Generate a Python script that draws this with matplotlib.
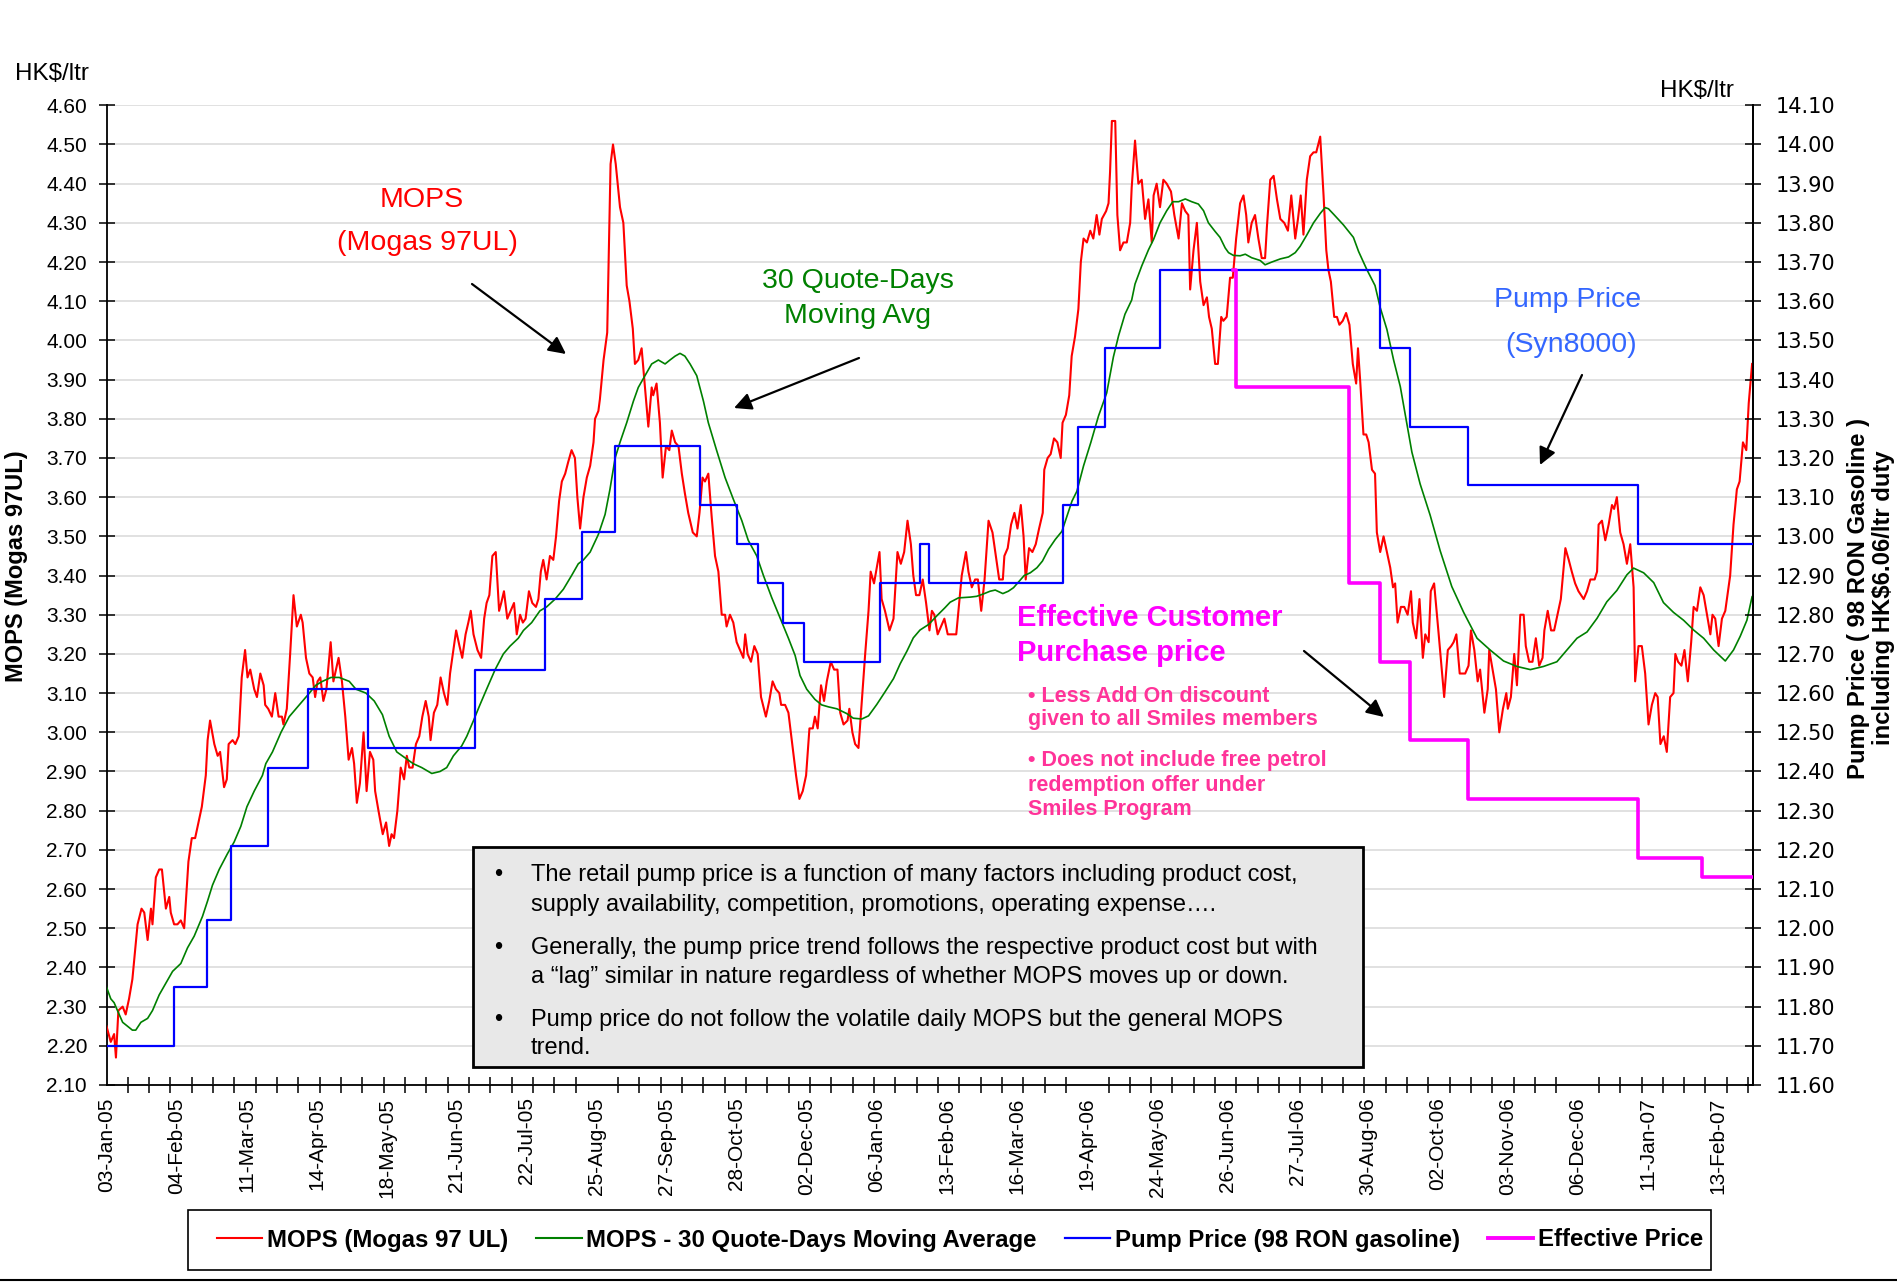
import numpy as np
import matplotlib
matplotlib.use("Agg")
import matplotlib.pyplot as plt
from matplotlib.lines import Line2D
from matplotlib.patches import Rectangle

plt.rcParams['font.family'] = ['Liberation Sans', 'DejaVu Sans']

W, H = 1897, 1282

# x axis: quote-day index, one label every 23 quote-days
tick_labels = ['03-Jan-05', '04-Feb-05', '11-Mar-05', '14-Apr-05', '18-May-05', '21-Jun-05',
               '22-Jul-05', '25-Aug-05', '27-Sep-05', '28-Oct-05', '02-Dec-05', '06-Jan-06',
               '13-Feb-06', '16-Mar-06', '19-Apr-06', '24-May-06', '26-Jun-06', '27-Jul-06',
               '30-Aug-06', '02-Oct-06', '03-Nov-06', '06-Dec-06', '11-Jan-07', '13-Feb-07']
label_every = 23
last_day = 540.3

# MOPS daily quote (turning points)
mops_day = [0, 1.4, 2.5, 3.1, 3.9, 5.3, 6.3, 7.4, 8.5, 10.2, 11.5, 12.4, 13.5, 14.6, 15.1, 16.2,
            17.3, 18.2, 19.5, 20.6, 21.1, 22.2, 23.3, 24.4, 25.5, 26.9, 28.0, 29.1, 31.3, 32.6,
            33.2, 34.0, 35.4, 36.5, 37.3, 38.6, 39.5, 40.1, 41.4, 42.3, 43.4, 44.4, 45.5, 46.3,
            47.2, 48.5, 49.4, 50.5, 51.6, 52.1, 53.1, 54.3, 55.4, 56.5, 57.6, 58.1, 59.2, 60.3,
            61.4, 62.5, 63.8, 64.4, 65.5, 66.6, 67.7, 68.5, 69.3, 70.2, 71.2, 72.2, 73.6, 74.5,
            76.2, 77.3, 78.4, 79.5, 80.6, 81.3, 82.2, 83.2, 84.4, 85.4, 86.5, 87.6, 88.2, 89.3,
            90.7, 91.8, 92.8, 93.6, 94.4, 95.5, 96.6, 97.7, 98.6, 99.4, 100.5, 101.6, 102.7, 103.7,
            104.8, 105.8, 106.4, 107.5, 108.6, 109.7, 110.8, 111.9, 112.8, 113.7, 114.8, 115.9,
            116.8, 117.9, 118.8, 119.6, 120.5, 121.8, 123.0, 124.0, 124.8, 125.7, 126.7, 127.8,
            128.9, 129.6, 130.5, 131.6, 132.7, 133.8, 134.7, 135.8, 136.7, 137.6, 138.7, 139.8,
            141.0, 141.8, 142.6, 143.4, 144.5, 145.6, 146.7, 147.6, 148.6, 149.5, 150.6, 151.6,
            152.7, 153.8, 154.6, 155.5, 156.6, 157.7, 158.8, 159.9, 160.4, 161.5, 162.0, 163.2,
            164.4, 165.5, 166.3, 167.2, 168.6, 169.7, 170.8, 171.7, 172.8, 173.5, 174.6, 175.7,
            176.8, 177.9, 179.0, 179.5, 180.6, 181.7, 182.6, 183.7, 184.8, 185.6, 186.7, 187.8,
            188.9, 189.9, 191.0, 192.5, 193.8, 194.7, 195.7, 196.5, 197.6, 198.7, 199.8, 200.9,
            202.0, 203.1, 203.6, 204.7, 205.8, 206.9, 208.0, 209.1, 209.7, 210.5, 211.6, 212.7,
            213.8, 214.9, 216.5, 217.6, 218.7, 219.8, 220.9, 221.5, 222.8, 223.9, 225.3, 226.4,
            227.5, 228.6, 229.7, 230.8, 231.9, 232.6, 233.5, 234.6, 235.6, 236.5, 237.8, 238.9,
            240.0, 240.9, 242.0, 243.3, 243.9, 244.9, 245.8, 246.9, 248.0, 249.1, 250.2, 250.9,
            252.0, 252.9, 253.8, 254.5, 255.6, 257.1, 258.4, 259.7, 260.8, 261.9, 263.0, 264.1,
            264.9, 265.8, 266.9, 268.0, 269.1, 270.2, 271.0, 271.8, 272.9, 274.0, 275.1, 276.2,
            277.3, 279.0, 280.8, 282.2, 283.0, 284.1, 285.2, 286.1, 287.2, 288.3, 289.6, 290.9,
            292.0, 293.1, 294.3, 294.8, 295.9, 297.0, 298.1, 299.1, 300.2, 301.1, 301.8, 302.9,
            304.0, 305.1, 306.2, 307.4, 307.9, 309.0, 310.0, 311.1, 312.2, 313.3, 313.9, 315.0,
            316.1, 316.9, 318.0, 319.1, 319.9, 320.8, 321.9, 323.0, 324.0, 325.1, 326.0, 326.8,
            328.2, 329.0, 329.5, 330.1, 331.2, 331.9, 332.8, 333.9, 335.0, 336.1, 336.6, 337.7,
            338.8, 339.9, 341.0, 342.1, 343.2, 343.8, 344.8, 345.9, 347.0, 348.1, 349.5, 350.6,
            352.0, 353.1, 354.2, 355.2, 355.8, 356.9, 358.0, 359.1, 360.2, 361.3, 362.0, 362.9,
            364.0, 364.9, 366.0, 366.7, 367.8, 368.9, 369.8, 370.9, 372.2, 373.3, 374.2, 374.9,
            376.0, 377.1, 378.2, 379.3, 380.4, 381.0, 382.1, 383.2, 384.3, 385.4, 386.7, 387.9,
            389.0, 390.3, 391.2, 392.1, 393.0, 394.1, 395.2, 396.3, 397.2, 398.5, 399.6, 400.5,
            401.2, 402.0, 403.1, 404.0, 404.8, 405.9, 407.0, 408.1, 409.2, 410.3, 410.9, 411.6,
            412.7, 413.6, 414.4, 415.5, 416.5, 417.1, 418.2, 419.3, 420.4, 421.5, 422.4, 423.1,
            423.9, 425.0, 426.1, 427.2, 428.3, 428.9, 430.0, 431.1, 432.2, 433.0, 434.1, 434.8,
            435.9, 437.4, 439.2, 440.4, 441.5, 442.3, 443.2, 444.3, 446.1, 447.2, 448.0, 449.1,
            450.2, 451.0, 452.4, 453.5, 454.0, 455.1, 456.2, 457.3, 458.5, 459.6, 460.1, 461.1,
            462.2, 463.1, 464.2, 465.3, 466.0, 467.1, 468.2, 469.3, 470.4, 471.5, 472.1, 473.2,
            474.3, 475.3, 476.4, 477.5, 479.0, 480.1, 481.1, 482.2, 483.3, 485.0, 486.1, 487.2,
            488.6, 489.4, 489.9, 491.0, 492.1, 493.2, 494.3, 495.0, 495.9, 497.0, 498.1, 499.2,
            500.3, 501.4, 501.9, 503.0, 504.1, 505.2, 506.3, 507.4, 508.5, 509.3, 510.2, 511.3,
            512.3, 513.4, 514.5, 515.1, 516.0, 517.1, 518.1, 519.2, 520.3, 521.1, 522.2, 523.3,
            524.4, 525.5, 526.6, 527.3, 528.2, 529.3, 530.4, 531.5, 533.1, 534.2, 535.3, 536.2,
            537.3, 538.4, 539.2, 540.3]
mops_val = [2.25, 2.21, 2.23, 2.17, 2.29, 2.30, 2.28, 2.32, 2.37, 2.51, 2.55, 2.54, 2.47, 2.55, 2.51, 2.63,
            2.65, 2.65, 2.55, 2.58, 2.54, 2.51, 2.51, 2.52, 2.50, 2.67, 2.73, 2.73, 2.81, 2.89,
            2.98, 3.03, 2.97, 2.94, 2.95, 2.86, 2.88, 2.97, 2.98, 2.97, 2.99, 3.14, 3.21, 3.14,
            3.16, 3.11, 3.09, 3.15, 3.12, 3.07, 3.06, 3.04, 3.10, 3.04, 3.04, 3.02, 3.06, 3.20,
            3.35, 3.27, 3.30, 3.28, 3.19, 3.15, 3.14, 3.09, 3.13, 3.14, 3.08, 3.11, 3.23, 3.13,
            3.19, 3.13, 3.04, 2.93, 2.96, 2.92, 2.82, 2.87, 3.00, 2.85, 2.95, 2.93, 2.85, 2.80,
            2.74, 2.77, 2.71, 2.74, 2.73, 2.80, 2.91, 2.88, 2.94, 2.91, 2.91, 2.97, 2.99, 3.04,
            3.08, 3.04, 2.98, 3.05, 3.07, 3.14, 3.10, 3.07, 3.15, 3.20, 3.26, 3.22,
            3.19, 3.25, 3.28, 3.31, 3.25, 3.21, 3.19, 3.29, 3.33, 3.35, 3.45, 3.46,
            3.31, 3.33, 3.36, 3.29, 3.31, 3.33, 3.25, 3.30, 3.28, 3.29, 3.36, 3.33,
            3.32, 3.34, 3.41, 3.44, 3.39, 3.45, 3.44, 3.50, 3.59, 3.64, 3.66, 3.69,
            3.72, 3.70, 3.60, 3.52, 3.60, 3.65, 3.68, 3.74, 3.80, 3.82, 3.85, 3.95,
            4.02, 4.45, 4.50, 4.45, 4.34, 4.30, 4.14, 4.10, 4.03, 3.94, 3.95, 3.98,
            3.88, 3.78, 3.88, 3.86, 3.89, 3.79, 3.65, 3.73, 3.72, 3.77, 3.74, 3.73,
            3.66, 3.61, 3.56, 3.51, 3.50, 3.56, 3.65, 3.64, 3.66, 3.55, 3.45, 3.41,
            3.30, 3.30, 3.27, 3.30, 3.28, 3.23, 3.21, 3.19, 3.25, 3.20, 3.18, 3.22,
            3.20, 3.09, 3.04, 3.08, 3.13, 3.11, 3.10, 3.07, 3.07, 3.05, 2.96, 2.89,
            2.83, 2.85, 2.89, 3.01, 3.01, 3.04, 3.01, 3.12, 3.08, 3.13, 3.18, 3.16,
            3.16, 3.05, 3.02, 3.03, 3.06, 3.00, 2.97, 2.96, 3.08, 3.20, 3.31, 3.41,
            3.38, 3.42, 3.46, 3.34, 3.31, 3.26, 3.29, 3.46, 3.43, 3.46, 3.54, 3.48,
            3.40, 3.35, 3.35, 3.39, 3.33, 3.26, 3.31, 3.30, 3.25, 3.27, 3.29, 3.25,
            3.25, 3.25, 3.40, 3.46, 3.41, 3.37, 3.39, 3.39, 3.31, 3.39, 3.54, 3.51,
            3.45, 3.39, 3.39, 3.45, 3.47, 3.53, 3.56, 3.52, 3.58, 3.50, 3.39, 3.47,
            3.46, 3.48, 3.52, 3.56, 3.67, 3.70, 3.71, 3.75, 3.74, 3.70, 3.79, 3.81,
            3.86, 3.96, 4.01, 4.08, 4.20, 4.26, 4.25, 4.28, 4.26, 4.32, 4.27, 4.31,
            4.33, 4.35, 4.43, 4.56, 4.56, 4.32, 4.23, 4.25, 4.25, 4.30, 4.39, 4.51,
            4.40, 4.41, 4.31, 4.36, 4.25, 4.37, 4.40, 4.34, 4.41, 4.40, 4.38, 4.32,
            4.26, 4.35, 4.33, 4.32, 4.13, 4.23, 4.30, 4.15, 4.09, 4.11, 4.06, 4.03,
            3.94, 3.94, 4.06, 4.05, 4.06, 4.16, 4.16, 4.26, 4.35, 4.37, 4.32, 4.25,
            4.30, 4.32, 4.26, 4.21, 4.21, 4.29, 4.41, 4.42, 4.36, 4.31, 4.30, 4.28,
            4.37, 4.26, 4.31, 4.37, 4.27, 4.41, 4.47, 4.48, 4.48, 4.52, 4.37, 4.23,
            4.18, 4.15, 4.06, 4.06, 4.04, 4.05, 4.07, 4.04, 3.94, 3.89, 3.98, 3.90,
            3.76, 3.76, 3.74, 3.67, 3.66, 3.51, 3.46, 3.50, 3.46, 3.42, 3.37, 3.38,
            3.28, 3.32, 3.32, 3.30, 3.36, 3.28, 3.24, 3.34, 3.19, 3.25, 3.23, 3.36,
            3.38, 3.25, 3.09, 3.21, 3.22, 3.23, 3.25, 3.15, 3.15, 3.17, 3.26, 3.21,
            3.13, 3.16, 3.05, 3.11, 3.21, 3.16, 3.11, 3.00, 3.06, 3.10, 3.06, 3.09,
            3.20, 3.12, 3.30, 3.30, 3.22, 3.18, 3.18, 3.24, 3.17, 3.19, 3.26, 3.31,
            3.26, 3.26, 3.30, 3.34, 3.47, 3.44, 3.41, 3.38, 3.36, 3.34, 3.36, 3.39,
            3.39, 3.41, 3.53, 3.54, 3.49, 3.53, 3.58, 3.57, 3.60, 3.51, 3.48, 3.43,
            3.48, 3.37, 3.13, 3.22, 3.22, 3.15, 3.02, 3.07, 3.10, 3.09, 2.97, 2.99,
            2.95, 3.09, 3.10, 3.20, 3.18, 3.17, 3.21, 3.13, 3.23, 3.32, 3.31, 3.37,
            3.35, 3.30, 3.25, 3.30, 3.29, 3.22, 3.29, 3.31, 3.40, 3.53, 3.62, 3.64,
            3.74, 3.72, 3.84, 3.94]

# 30 quote-days moving average
ma_day = [0, 1.4, 2.5, 3.6, 5.3, 6.9, 8.5, 9.6, 11.3, 13.5, 15.1, 17.3, 19.5, 21.7, 24.4, 26.6,
          28.8, 31.5, 33.2, 34.8, 37, 39.7, 41.9, 44.1, 46.1, 48.5, 51.2, 52.3, 54.5, 57.3, 60,
          62.2, 64.4, 66.6, 68.7, 70.9, 73.7, 76.4, 79.7, 81.9, 85.2, 87.9, 90.6, 92.8, 95.3,
          98, 100.7, 103.5, 106.8, 109.5, 111.7, 113.9, 116.6, 118.3, 120.5, 122.6, 124.8,
          127.6, 130.3, 132.5, 135.2, 136.9, 139.6, 142.3, 144.5, 147.3, 150, 152.7, 154.9,
          156.6, 158.8, 161.5, 163.7, 165.3, 167, 168.6, 170.8, 173, 174.6, 176.8, 179, 181.2,
          183.4, 185, 186.7, 188.3, 189.9, 191.6, 193.8, 196, 197.6, 200.3, 203.1, 205.8,
          208.6, 210.7, 213.5, 215.7, 218.4, 221.1, 223.9, 226.1, 227.7, 229.9, 232.6, 234.8,
          237, 239.8, 243, 245.2, 248, 250.2, 252.9, 255.6, 258.4, 260.6, 262.8, 264.9, 267.1,
          269.9, 272.6, 275.3, 277, 279.7, 283.6, 285.7, 287.9, 290.1, 291.8, 294.3, 296.1,
          297.8, 299.4, 301.3, 303.3, 305.5, 307.3, 309.3, 311.5, 313.7, 315.3, 317, 318.6,
          320.8, 323.2, 325.7, 328.4, 330.6, 332.3, 334.4, 336.6, 337.7, 339.9, 342.1, 343.8,
          345.9, 348.1, 350.1, 352, 354.2, 356.3, 358.5, 360.2, 361.8, 364, 365.6, 367.3,
          368.4, 370, 372.2, 373.9, 376, 378.8, 380.4, 382.6, 385.4, 388.1, 390.3, 391.9,
          394.1, 396.3, 398.5, 400.1, 401.2, 402.9, 406.1, 409.4, 411.1, 413.8, 416.5, 418.2,
          420.4, 422.6, 424.8, 428.6, 431.3, 434.6, 437.9, 441.7, 445.6, 450, 454.3, 458.7,
          463.1, 467.5, 471.8, 476.2, 479.5, 482.8, 486.1, 489.4, 492.6, 495.9, 499.2, 501.4,
          504.7, 508, 511.2, 514.5, 517.8, 521.1, 524.4, 527.7, 531.5, 534.2, 536.4, 538.6,
          540.3]
ma_val = [2.35, 2.32, 2.31, 2.29, 2.26, 2.25, 2.24, 2.24, 2.26, 2.27, 2.29, 2.33, 2.36, 2.39, 2.41, 2.45,
          2.48, 2.53, 2.57, 2.61, 2.65, 2.69, 2.72, 2.76, 2.81, 2.85, 2.89, 2.92, 2.95, 3.00, 3.04,
          3.06, 3.08, 3.10, 3.12, 3.13, 3.14, 3.14, 3.13, 3.11, 3.10, 3.08, 3.045, 2.99, 2.95,
          2.935, 2.92, 2.91, 2.895, 2.90, 2.91, 2.94, 2.965, 2.99, 3.03, 3.07, 3.11,
          3.16, 3.20, 3.22, 3.24, 3.26, 3.28, 3.31, 3.32, 3.34, 3.365, 3.40, 3.43,
          3.44, 3.46, 3.505, 3.556, 3.62, 3.70, 3.74, 3.79, 3.845, 3.88, 3.91, 3.94, 3.95,
          3.94, 3.95, 3.96, 3.967, 3.96, 3.94, 3.91, 3.845, 3.79, 3.72, 3.65, 3.595,
          3.54, 3.49, 3.45, 3.40, 3.344, 3.293, 3.24, 3.196, 3.145, 3.11, 3.084, 3.07,
          3.065, 3.06, 3.048, 3.036, 3.034, 3.042, 3.071, 3.103, 3.137, 3.175, 3.207, 3.241, 3.261,
          3.275, 3.297, 3.318, 3.332, 3.343, 3.345, 3.347, 3.353, 3.36, 3.363, 3.354, 3.36,
          3.369, 3.383, 3.40, 3.407, 3.42, 3.437, 3.467, 3.492, 3.513, 3.55, 3.59, 3.615,
          3.68, 3.74, 3.807, 3.866, 3.958, 4.012, 4.067, 4.103, 4.144, 4.19, 4.231, 4.258,
          4.30, 4.331, 4.354, 4.354, 4.361, 4.354, 4.348, 4.331, 4.30, 4.278, 4.263, 4.236,
          4.224, 4.217, 4.216, 4.22, 4.211, 4.204, 4.193, 4.20, 4.208, 4.213, 4.224, 4.24,
          4.269, 4.30, 4.324, 4.339, 4.336, 4.322, 4.295, 4.263, 4.227, 4.181, 4.14, 4.084,
          4.028, 3.95, 3.882, 3.715, 3.634, 3.554, 3.463, 3.372, 3.306, 3.24, 3.21, 3.182,
          3.168, 3.16, 3.168, 3.18, 3.21, 3.24, 3.256, 3.291, 3.333, 3.362, 3.402, 3.419,
          3.407, 3.382, 3.331, 3.306, 3.286, 3.261, 3.24, 3.21, 3.182, 3.21, 3.245, 3.286,
          3.346]

# pump price (right axis, HK$/ltr incl. duty): day of change and new price
pump_day = [0, 22, 33, 41, 53, 66, 86, 121, 144, 156, 167, 195, 207, 214, 222, 229, 254,
            267, 270, 314, 319, 328, 346, 418, 428, 447, 503, 540.3]
pump_val = [11.70, 11.85, 12.02, 12.21, 12.41, 12.61, 12.46, 12.66, 12.84, 13.01, 13.23, 13.08,
            12.98, 12.88, 12.78, 12.68, 12.88, 12.98, 12.88, 13.08, 13.28, 13.48, 13.68, 13.48,
            13.28, 13.13, 12.98, 12.98]

# effective customer price
eff_day = [370, 371, 408, 418, 428, 447, 503, 524, 540.3]
eff_val = [13.68, 13.38, 12.88, 12.68, 12.48, 12.33, 12.18, 12.13, 12.13]


def fx(x):
    return x / W


def fy(y):
    return 1 - y / H


fig = plt.figure(figsize=(W / 100, H / 100), dpi=100)
ax = fig.add_axes([fx(106.5), fy(1085), (1753 - 106.5) / W, (1085 - 105.3) / H])
ax2 = ax.twinx()

ax.plot(mops_day, mops_val, color='#FF0000', lw=1.5, zorder=3)
ax.plot(ma_day, ma_val, color='#008000', lw=1.2, zorder=3)
ax2.plot(pump_day, pump_val, color='#0000FF', lw=1.6, drawstyle='steps-post', zorder=3)
ax2.plot(eff_day, eff_val, color='#FF00FF', lw=2.6, drawstyle='steps-post', zorder=4)

ax.set_xlim(0, 540.6)
ax.set_ylim(2.1, 4.6)
ax2.set_ylim(11.6, 14.1)

yt = np.round(np.arange(2.1, 4.61, 0.1), 2)
ax.set_yticks(yt)
ax.set_yticklabels([f'{v:.2f}' for v in yt])
yt2 = np.round(np.arange(11.6, 14.11, 0.1), 2)
ax2.set_yticks(yt2)
ax2.set_yticklabels([f'{v:.2f}' for v in yt2], family='DejaVu Sans')

ax.yaxis.grid(True, color='#DEDEDE', lw=1.3)
ax.set_axisbelow(True)

label_pos = [i * label_every for i in range(len(tick_labels))]
ax.set_xticks(label_pos)
ax.set_xticklabels(tick_labels, rotation=90, fontsize=15)
ax.set_xticks(np.arange(0, 541, 7), minor=True)
ax.tick_params(axis='x', which='major', length=0, pad=9)
ax.tick_params(axis='x', which='minor', direction='inout', length=12, width=1.1)
ax.tick_params(axis='y', direction='inout', length=12, width=1.1, labelsize=15, pad=8)
ax2.tick_params(axis='y', direction='inout', length=12, width=1.1, labelsize=15, pad=10)

for a in (ax, ax2):
    a.spines['top'].set_visible(False)
    for s in ('left', 'right', 'bottom'):
        a.spines[s].set_linewidth(1.3)
ax2.spines['left'].set_visible(False)
ax2.spines['bottom'].set_visible(False)

# axis titles
fig.text(fx(52), fy(74), 'HK$/ltr', fontsize=17.5, ha='center', va='center')
fig.text(fx(1697), fy(91), 'HK$/ltr', fontsize=17.5, ha='center', va='center')
fig.text(fx(17), fy(566), 'MOPS (Mogas 97UL)', fontsize=17, fontweight='bold',
         rotation=90, ha='center', va='center')
fig.text(fx(1871), fy(598), 'Pump Price ( 98 RON Gasoline )\nincluding HK$6.06/ltr duty',
         fontsize=17.2, fontweight='bold', rotation=90, ha='center', va='center',
         multialignment='center', linespacing=1.15)

# callouts
fig.text(fx(422), fy(200), 'MOPS', fontsize=20.5, color='#FF0000', ha='center', va='center')
fig.text(fx(427), fy(243), '(Mogas 97UL)', fontsize=20.5, color='#FF0000', ha='center', va='center')
fig.text(fx(858), fy(281), '30 Quote-Days', fontsize=20.5, color='#008000', ha='center', va='center')
fig.text(fx(858), fy(316), 'Moving Avg', fontsize=20.5, color='#008000', ha='center', va='center')
fig.text(fx(1568), fy(300), 'Pump Price', fontsize=20.5, color='#3366FF', ha='center', va='center')
fig.text(fx(1571), fy(345), '(Syn8000)', fontsize=20.5, color='#3366FF', ha='center', va='center')
fig.text(fx(1017), fy(618), 'Effective Customer', fontsize=21, fontweight='bold',
         color='#FF00FF', ha='left', va='center')
fig.text(fx(1017), fy(653), 'Purchase price', fontsize=21, fontweight='bold',
         color='#FF00FF', ha='left', va='center')
pink_lines = [('• Less Add On discount', 696), ('given to all Smiles members', 720),
              ('• Does not include free petrol', 760), ('redemption offer under', 785),
              ('Smiles Program', 809)]
for txt, yy in pink_lines:
    fig.text(fx(1028), fy(yy), txt, fontsize=15.5, fontweight='bold', color='#FF3399',
             ha='left', va='center')

arrows = [((472, 284), (566, 354)), ((859, 358), (734, 408)),
          ((1582, 375), (1540, 465)), ((1304, 651), (1384, 717))]
for (x1, y1), (x2, y2) in arrows:
    ax.annotate('', xy=(fx(x2), fy(y2)), xytext=(fx(x1), fy(y1)),
                xycoords='figure fraction', textcoords='figure fraction',
                arrowprops=dict(arrowstyle='-|>', color='black', lw=1.6, mutation_scale=26,
                                shrinkA=0, shrinkB=0))

# note box
box = Rectangle((fx(473), fy(1067)), (1363 - 473) / W, (1067 - 847) / H,
                transform=fig.transFigure, facecolor='#E8E8E8', edgecolor='black', lw=2, zorder=5)
fig.patches.append(box)
notes = [('The retail pump price is a function of many factors including product cost,', 875, True),
         ('supply availability, competition, promotions, operating expense….', 905, False),
         ('Generally, the pump price trend follows the respective product cost but with', 948, True),
         ('a \u201clag\u201d similar in nature regardless of whether MOPS moves up or down.', 977, False),
         ('Pump price do not follow the volatile daily MOPS but the general MOPS', 1020, True),
         ('trend.', 1048, False)]
for txt, yy, bullet in notes:
    if bullet:
        fig.text(fx(498), fy(yy), '•', fontsize=17, ha='center', va='center', zorder=6)
    fig.text(fx(531), fy(yy), txt, fontsize=17, ha='left', va='center', zorder=6)

# legend (frame drawn separately, it sits off-centre around the entries)
handles = [Line2D([], [], color='#FF0000', lw=1.5),
           Line2D([], [], color='#008000', lw=1.5),
           Line2D([], [], color='#0000FF', lw=1.6),
           Line2D([], [], color='#FF00FF', lw=2.8)]
names = ['MOPS (Mogas 97 UL)', 'MOPS - 30 Quote-Days Moving Average',
         'Pump Price (98 RON gasoline)', 'Effective Price']
leg = fig.legend(handles, names, loc='center', bbox_to_anchor=(fx(960), fy(1240)), ncol=4,
                 frameon=False, borderpad=0, handlelength=1.9, handletextpad=0.2,
                 columnspacing=1.15, prop={'weight': 'bold', 'size': 17.3})
leg_box = Rectangle((fx(187.5), fy(1270)), (1711 - 187.5) / W, 60 / H, transform=fig.transFigure,
                    facecolor='none', edgecolor='black', lw=1.2)
fig.patches.append(leg_box)

fig.add_artist(Line2D([0, 1], [fy(1280), fy(1280)], color='black', lw=1.5,
                      transform=fig.transFigure))

fig.savefig('out.png', dpi=100, facecolor='white')
